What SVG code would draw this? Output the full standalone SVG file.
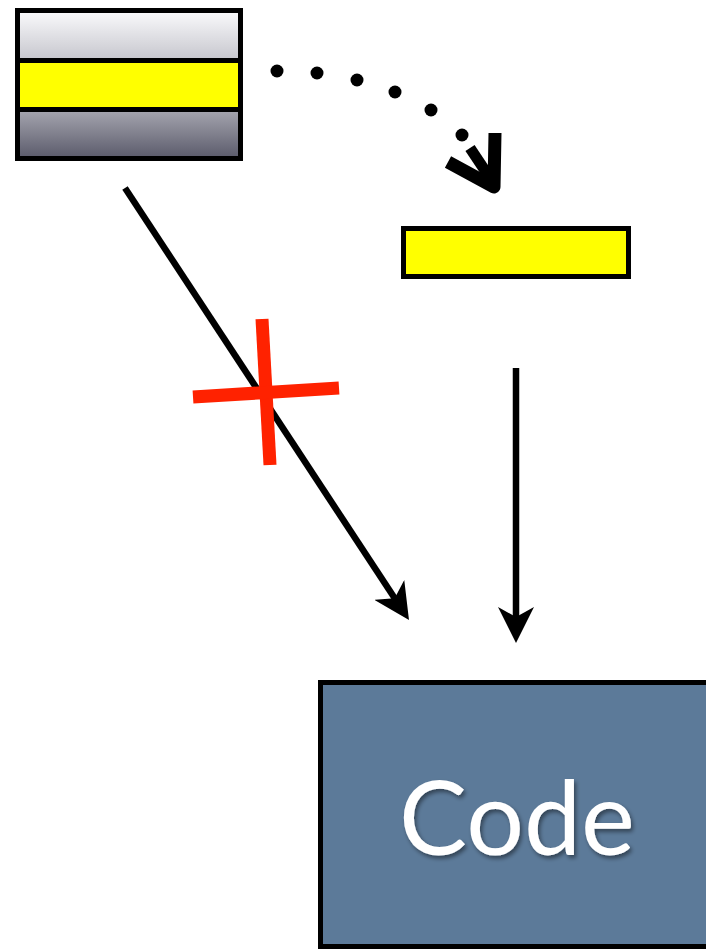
<svg xmlns="http://www.w3.org/2000/svg" width="706" height="950" viewBox="0 0 706 950">
  <style>
    .box { stroke: #000; stroke-width: 5; }
    .conn { stroke: #000; stroke-width: 6.5; fill: none; }
    .dot { fill: #000; }
    .cross { stroke: #ff2200; stroke-width: 13; stroke-linecap: butt; }
    .label { font-family: "Lato", "Liberation Sans", sans-serif; font-size: 102px; fill: #ffffff; }
  </style>
  <defs>
    <linearGradient id="gTop" x1="0" y1="0" x2="0" y2="1">
      <stop offset="0" stop-color="#f8f8fa"/>
      <stop offset="1" stop-color="#c8c8cf"/>
    </linearGradient>
    <linearGradient id="gBot" x1="0" y1="0" x2="0" y2="1">
      <stop offset="0" stop-color="#a2a2ac"/>
      <stop offset="1" stop-color="#5e5e6e"/>
    </linearGradient>
    <marker id="arrow" viewBox="0 0 36 36" refX="16" refY="18" markerWidth="36" markerHeight="36" markerUnits="userSpaceOnUse" orient="auto">
      <path d="M0,0 L36,18 L0,36 L10,18 Z" fill="#000"/>
    </marker>
    <filter id="shadow" x="-10%" y="-10%" width="120%" height="130%">
      <feDropShadow dx="2" dy="3" stdDeviation="2" flood-color="#000" flood-opacity="0.45"/>
    </filter>
  </defs>

  <g id="stack">
    <rect x="15" y="8" width="228" height="153" fill="#000"/>
    <rect x="20" y="13" width="218" height="45" fill="url(#gTop)"/>
    <rect x="20" y="63" width="218" height="44" fill="#ffff00"/>
    <rect x="20" y="112" width="218" height="44" fill="url(#gBot)"/>
  </g>

  <g id="yellow-bar">
    <rect class="box" x="403.5" y="228.5" width="225" height="48" fill="#ffff00"/>
  </g>

  <g id="code">
    <rect class="box" x="320.5" y="682.5" width="400" height="264" fill="#5c7a99"/>
    <text class="label" x="517" y="855" text-anchor="middle" filter="url(#shadow)">Code</text>
  </g>

  <g id="connectors">
    <line class="conn" x1="125" y1="188" x2="398" y2="603.3" marker-end="url(#arrow)"/>
    <line class="conn" x1="516" y1="368" x2="516" y2="623" marker-end="url(#arrow)"/>
    <g id="dotted">
      <circle class="dot" cx="277" cy="71" r="6.5"/>
      <circle class="dot" cx="317" cy="73" r="6.5"/>
      <circle class="dot" cx="357" cy="80" r="6.5"/>
      <circle class="dot" cx="395" cy="92" r="6.5"/>
      <circle class="dot" cx="431" cy="110" r="6.5"/>
      <circle class="dot" cx="462" cy="135" r="6.5"/>
      <line x1="470" y1="148" x2="490" y2="178" stroke="#000" stroke-width="11"/>
      <polyline points="448,162 494,187 495,133" fill="none" stroke="#000" stroke-width="13" stroke-linejoin="round"/>
    </g>
  </g>

  <g id="cross">
    <line class="cross" x1="262" y1="319" x2="270" y2="465"/>
    <line class="cross" x1="193" y1="397" x2="339" y2="388"/>
  </g>
</svg>
